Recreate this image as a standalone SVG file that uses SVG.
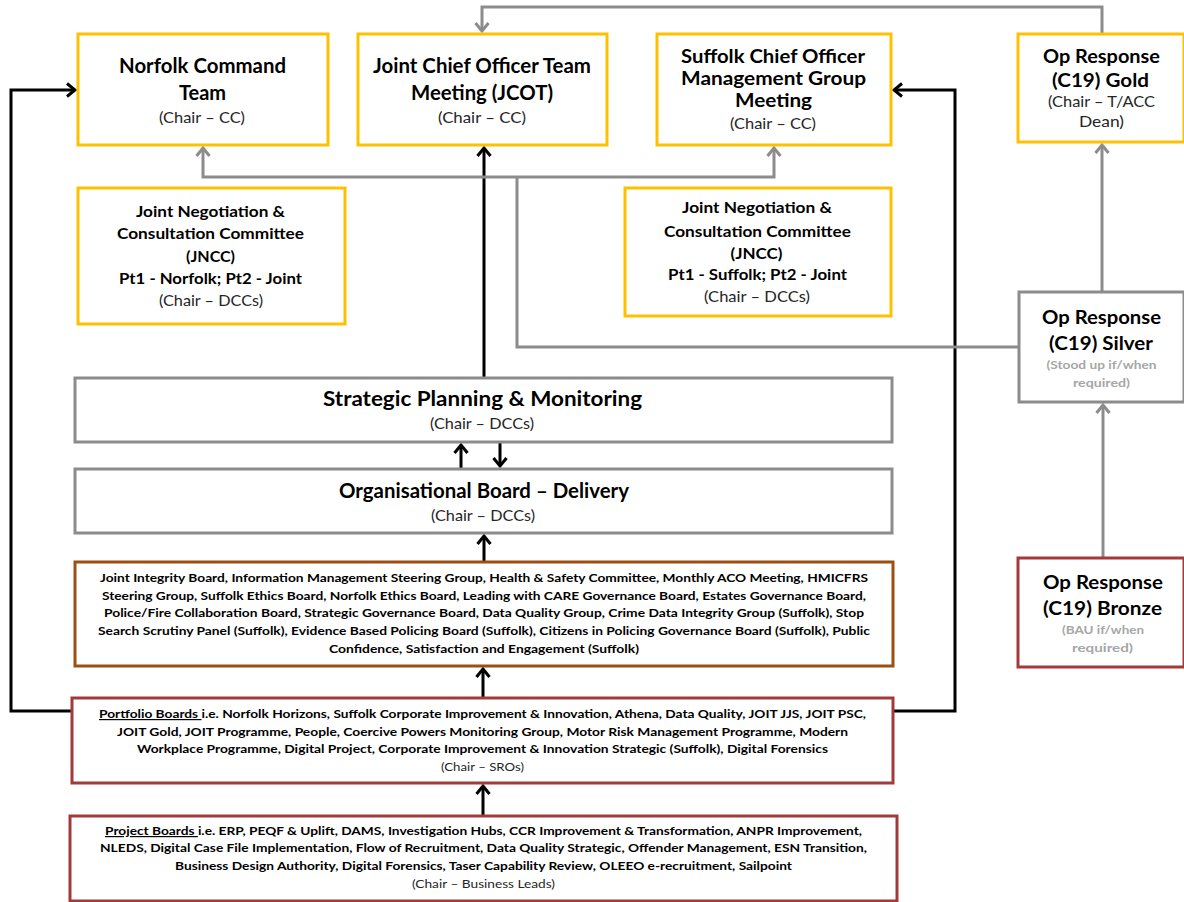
<svg xmlns="http://www.w3.org/2000/svg" width="1184" height="902" viewBox="0 0 1184 902">
<defs>
<style>
text{font-family:Lato,"Liberation Sans",sans-serif;text-anchor:middle;fill:#000}
.h{font-size:20px;font-weight:bold}
.h19{font-size:19px;font-weight:bold}
.h18{font-size:18px;font-weight:bold}
.m{font-size:16px;font-weight:bold}
.c{font-size:15px;fill:#262626}
.s{font-size:12px;font-weight:bold}
.sg{font-size:12px;font-weight:bold;fill:#a6a6a6}
.r{font-size:12px;fill:#262626}
.bx{fill:#fff;stroke-width:3}
.y{stroke:#ffc000}
.g{stroke:#8c8c8c}
.o{stroke:#9c4f10}
.d{stroke:#a33a3a}
.lk{fill:none;stroke:#000;stroke-width:3}
.lg{fill:none;stroke:#8c8c8c;stroke-width:3}
</style>
<marker id="ak" viewBox="-10 -8 12 16" refX="0" refY="0" markerWidth="12" markerHeight="16" markerUnits="userSpaceOnUse" orient="auto"><path d="M-8,-6.5 L0,0 L-8,6.5" fill="none" stroke="#000" stroke-width="3"/></marker>
<marker id="ag" viewBox="-10 -8 12 16" refX="0" refY="0" markerWidth="12" markerHeight="16" markerUnits="userSpaceOnUse" orient="auto"><path d="M-8,-6.5 L0,0 L-8,6.5" fill="none" stroke="#8c8c8c" stroke-width="3"/></marker>
</defs>
<rect width="1184" height="902" fill="#fff"/>

<g id="connectors">
<path class="lk" d="M72,711 H11 V90 H75" marker-end="url(#ak)"/>
<path class="lk" d="M893,711 H955 V90 H894" marker-end="url(#ak)"/>
<path class="lk" d="M484,378 V148" marker-end="url(#ak)"/>
<path class="lk" d="M461,469 V445" marker-end="url(#ak)"/>
<path class="lk" d="M500,442 V466" marker-end="url(#ak)"/>
<path class="lk" d="M484,562 V536" marker-end="url(#ak)"/>
<path class="lk" d="M483,698 V669" marker-end="url(#ak)"/>
<path class="lk" d="M483,816 V786" marker-end="url(#ak)"/>
<path class="lg" d="M490,177 H203 V148" marker-end="url(#ag)"/>
<path class="lg" d="M490,177 H774 V148" marker-end="url(#ag)"/>
<path class="lg" d="M1019,347 H517 V177"/>
<path class="lg" d="M1102,34 V7 H482 V31" marker-end="url(#ag)"/>
<path class="lg" d="M1102,292 V145" marker-end="url(#ag)"/>
<path class="lg" d="M1103,558 V405" marker-end="url(#ag)"/>
</g>

<g id="norfolk">
<rect class="bx y" x="78" y="34" width="250" height="111"/>
<text class="h" x="202.5" y="72.5" textLength="167" lengthAdjust="spacingAndGlyphs">Norfolk Command</text>
<text class="h" x="202.5" y="99.5">Team</text>
<text class="c" x="202" y="123" textLength="86" lengthAdjust="spacingAndGlyphs">(Chair – CC)</text>
</g>

<g id="jcot">
<rect class="bx y" x="358" y="34" width="249" height="111"/>
<text class="h" x="482" y="72.5" textLength="218" lengthAdjust="spacingAndGlyphs">Joint Chief Officer Team</text>
<text class="h" x="482" y="99.5" textLength="142" lengthAdjust="spacingAndGlyphs">Meeting (JCOT)</text>
<text class="c" x="482" y="123" textLength="88" lengthAdjust="spacingAndGlyphs">(Chair – CC)</text>
</g>

<g id="suffolk">
<rect class="bx y" x="657" y="34" width="234" height="111"/>
<text class="h18" x="773" y="63" textLength="184" lengthAdjust="spacingAndGlyphs">Suffolk Chief Officer</text>
<text class="h18" x="773.5" y="85" textLength="185" lengthAdjust="spacingAndGlyphs">Management Group</text>
<text class="h18" x="773.5" y="107" textLength="77" lengthAdjust="spacingAndGlyphs">Meeting</text>
<text class="c" x="773" y="128.5" textLength="86" lengthAdjust="spacingAndGlyphs">(Chair – CC)</text>
</g>

<g id="gold">
<rect class="bx y" x="1018" y="34" width="166" height="108"/>
<text class="h19" x="1101.5" y="62.5" textLength="117" lengthAdjust="spacingAndGlyphs">Op Response</text>
<text class="h19" x="1100.5" y="86.5" textLength="97" lengthAdjust="spacingAndGlyphs">(C19) Gold</text>
<text class="c" x="1101.5" y="107" textLength="107" lengthAdjust="spacingAndGlyphs">(Chair – T/ACC</text>
<text class="c" x="1101.5" y="127" textLength="45" lengthAdjust="spacingAndGlyphs">Dean)</text>
</g>

<g id="jncc-norfolk">
<rect class="bx y" x="78" y="188" width="267" height="136"/>
<text class="m" x="210.5" y="217" textLength="149" lengthAdjust="spacingAndGlyphs">Joint Negotiation &amp;</text>
<text class="m" x="210.5" y="239" textLength="187" lengthAdjust="spacingAndGlyphs">Consultation Committee</text>
<text class="m" x="210.5" y="262" textLength="49" lengthAdjust="spacingAndGlyphs">(JNCC)</text>
<text class="m" x="210.5" y="284" textLength="183" lengthAdjust="spacingAndGlyphs">Pt1 - Norfolk; Pt2 - Joint</text>
<text class="c" x="211" y="306" textLength="104" lengthAdjust="spacingAndGlyphs">(Chair – DCCs)</text>
</g>

<g id="jncc-suffolk">
<rect class="bx y" x="625" y="188" width="266" height="128"/>
<text class="m" x="757" y="213" textLength="150" lengthAdjust="spacingAndGlyphs">Joint Negotiation &amp;</text>
<text class="m" x="757.5" y="237" textLength="187" lengthAdjust="spacingAndGlyphs">Consultation Committee</text>
<text class="m" x="756.5" y="259" textLength="52" lengthAdjust="spacingAndGlyphs">(JNCC)</text>
<text class="m" x="757.5" y="280" textLength="179" lengthAdjust="spacingAndGlyphs">Pt1 - Suffolk; Pt2 - Joint</text>
<text class="c" x="757" y="302" textLength="106" lengthAdjust="spacingAndGlyphs">(Chair – DCCs)</text>
</g>

<g id="silver">
<rect class="bx g" x="1019" y="292" width="165" height="110"/>
<text class="h19" x="1101.5" y="323.5" textLength="119" lengthAdjust="spacingAndGlyphs">Op Response</text>
<text class="h19" x="1101" y="349.5" textLength="104" lengthAdjust="spacingAndGlyphs">(C19) Silver</text>
<text class="sg" x="1101.5" y="369" textLength="110" lengthAdjust="spacingAndGlyphs">(Stood up if/when</text>
<text class="sg" x="1101.5" y="387" textLength="57" lengthAdjust="spacingAndGlyphs">required)</text>
</g>

<g id="bronze">
<rect class="bx d" x="1018" y="558" width="166" height="109"/>
<text class="h19" x="1103" y="588.5" textLength="120" lengthAdjust="spacingAndGlyphs">Op Response</text>
<text class="h19" x="1102.5" y="614.5" textLength="119" lengthAdjust="spacingAndGlyphs">(C19) Bronze</text>
<text class="sg" x="1103" y="634" textLength="82" lengthAdjust="spacingAndGlyphs">(BAU if/when</text>
<text class="sg" x="1102.5" y="652" textLength="61" lengthAdjust="spacingAndGlyphs">required)</text>
</g>

<g id="strategic">
<rect class="bx g" x="75" y="378" width="817" height="64"/>
<text class="h" x="482.5" y="405.5" textLength="319" lengthAdjust="spacingAndGlyphs">Strategic Planning &amp; Monitoring</text>
<text class="c" x="482" y="429" textLength="104" lengthAdjust="spacingAndGlyphs">(Chair – DCCs)</text>
</g>

<g id="organisational">
<rect class="bx g" x="75" y="469" width="817" height="64"/>
<text class="h" x="484" y="497.5" textLength="290" lengthAdjust="spacingAndGlyphs">Organisational Board – Delivery</text>
<text class="c" x="483" y="521" textLength="104" lengthAdjust="spacingAndGlyphs">(Chair – DCCs)</text>
</g>

<g id="boards">
<rect class="bx o" x="75" y="562" width="818" height="104"/>
<text class="s" x="484" y="582" textLength="768" lengthAdjust="spacingAndGlyphs">Joint Integrity Board, Information Management Steering Group, Health &amp; Safety Committee, Monthly ACO Meeting, HMICFRS</text>
<text class="s" x="484" y="600" textLength="764" lengthAdjust="spacingAndGlyphs">Steering Group, Suffolk Ethics Board, Norfolk Ethics Board, Leading with CARE Governance Board, Estates Governance Board,</text>
<text class="s" x="484" y="617" textLength="760" lengthAdjust="spacingAndGlyphs">Police/Fire Collaboration Board, Strategic Governance Board, Data Quality Group, Crime Data Integrity Group (Suffolk), Stop</text>
<text class="s" x="484" y="635" textLength="772" lengthAdjust="spacingAndGlyphs">Search Scrutiny Panel (Suffolk), Evidence Based Policing Board (Suffolk), Citizens in Policing Governance Board (Suffolk), Public</text>
<text class="s" x="484" y="653" textLength="310" lengthAdjust="spacingAndGlyphs">Confidence, Satisfaction and Engagement (Suffolk)</text>
</g>

<g id="portfolio">
<rect class="bx d" x="72" y="698" width="821" height="85"/>
<text class="s" x="482.5" y="718" textLength="767" lengthAdjust="spacingAndGlyphs"><tspan text-decoration="underline">Portfolio Boards </tspan>i.e. Norfolk Horizons, Suffolk Corporate Improvement &amp; Innovation, Athena, Data Quality, JOIT JJS, JOIT PSC,</text>
<text class="s" x="482.5" y="736" textLength="731" lengthAdjust="spacingAndGlyphs">JOIT Gold, JOIT Programme, People, Coercive Powers Monitoring Group, Motor Risk Management Programme, Modern</text>
<text class="s" x="482.5" y="753" textLength="691" lengthAdjust="spacingAndGlyphs">Workplace Programme, Digital Project, Corporate Improvement &amp; Innovation Strategic (Suffolk), Digital Forensics</text>
<text class="r" x="482.5" y="771" textLength="83" lengthAdjust="spacingAndGlyphs">(Chair – SROs)</text>
</g>

<g id="project">
<rect class="bx d" x="70" y="816" width="827" height="85"/>
<text class="s" x="483.5" y="835" textLength="757" lengthAdjust="spacingAndGlyphs"><tspan text-decoration="underline">Project Boards </tspan>i.e. ERP, PEQF &amp; Uplift, DAMS, Investigation Hubs, CCR Improvement &amp; Transformation, ANPR Improvement,</text>
<text class="s" x="483.5" y="852" textLength="767" lengthAdjust="spacingAndGlyphs">NLEDS, Digital Case File Implementation, Flow of Recruitment, Data Quality Strategic, Offender Management, ESN Transition,</text>
<text class="s" x="483.5" y="870" textLength="617" lengthAdjust="spacingAndGlyphs">Business Design Authority, Digital Forensics, Taser Capability Review, OLEEO e-recruitment, Sailpoint</text>
<text class="r" x="483.5" y="888" textLength="143" lengthAdjust="spacingAndGlyphs">(Chair – Business Leads)</text>
</g>
</svg>
